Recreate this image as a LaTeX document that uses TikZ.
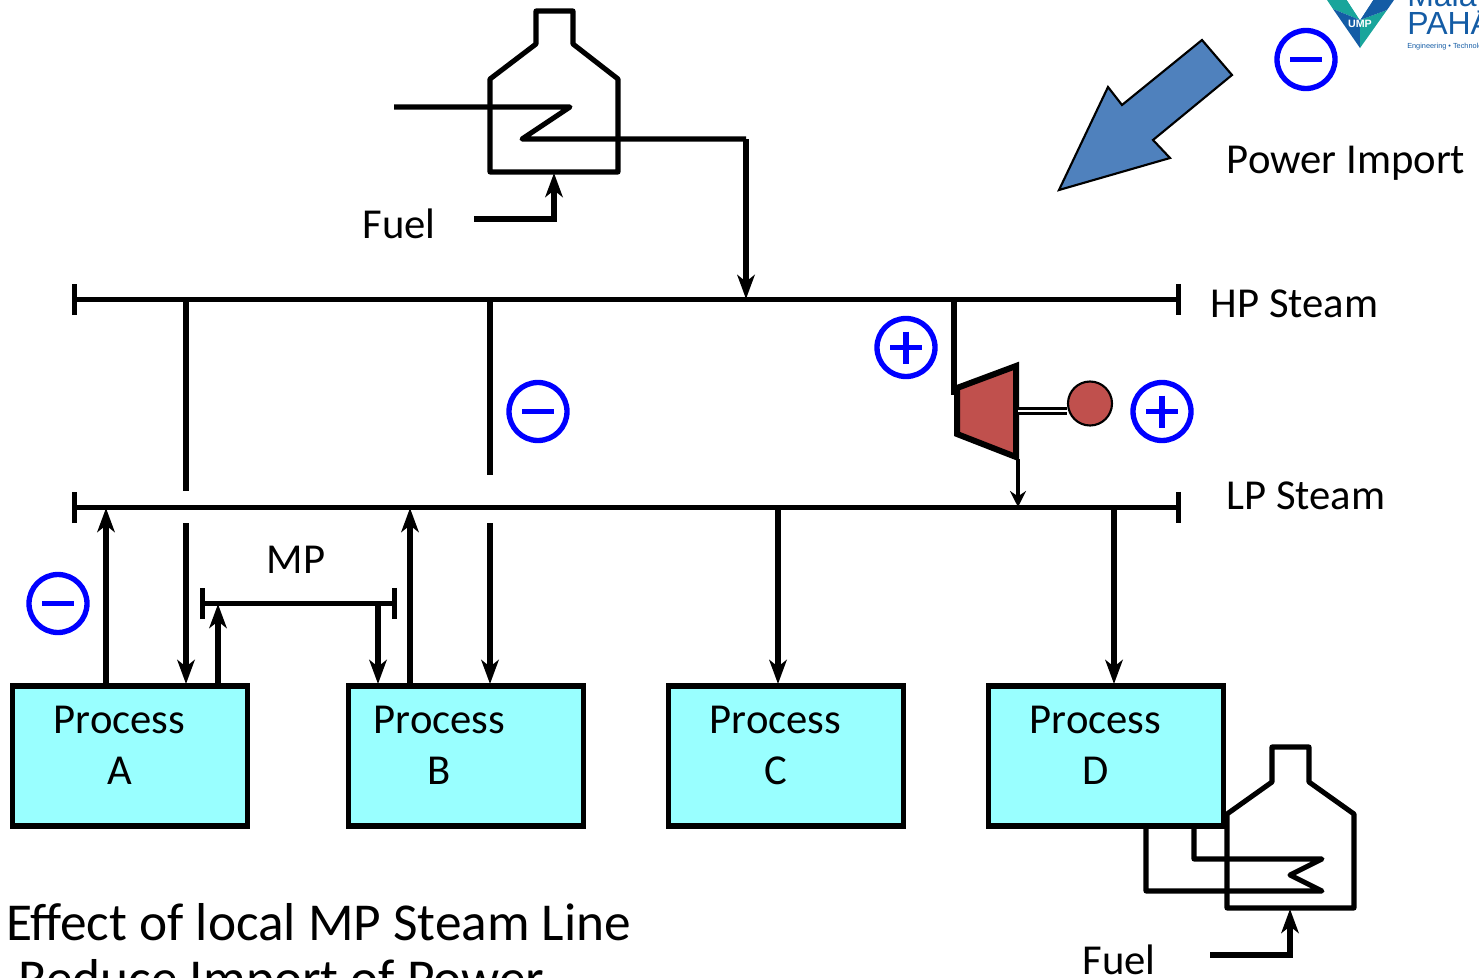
\documentclass[tikz,border=0pt]{standalone}
\usepackage{xcolor}
\usepackage{fontspec}
\setmainfont{Carlito}
\newfontfamily\logofont{Liberation Sans}
\usetikzlibrary{arrows.meta}
\definecolor{procfill}{RGB}{153,255,255}
\definecolor{turbfill}{RGB}{192,80,77}
\definecolor{powfill}{RGB}{79,129,189}
\definecolor{logoblue}{RGB}{20,92,165}
\definecolor{logoteal}{RGB}{25,165,155}
\tikzset{
  pipe/.style={line width=4pt},
  flow/.style={line width=4pt,-{Stealth[length=18pt,width=13pt,inset=5pt]}},
  hdr/.style={line width=4pt,{Bar[width=23.5pt,line width=4pt]}-{Bar[width=23.5pt,line width=4pt]}},
  furn/.style={line width=3.8pt,line join=round},
  procbox/.style={draw,line width=4pt,fill=procfill,minimum width=176.25pt,minimum height=105pt,inner sep=0pt,outer sep=0pt},
  lbl/.style={font=\fontsize{32}{38}\selectfont,align=center,inner sep=0pt},
  proclbl/.style={lbl,text depth=0pt},
  biglbl/.style={font=\fontsize{40}{46}\selectfont,anchor=west,inner sep=0pt},
  signring/.style={circle,draw=blue,line width=4pt,minimum size=43.5pt,inner sep=0pt},
  signbar/.style={draw=blue,line width=4pt},
}
\begin{document}
\begin{tikzpicture}[x=0.75pt,y=0.75pt,yscale=-1,xscale=1]
\useasboundingbox (0,0) rectangle (1479,978);
\clip (0,0) rectangle (1479,978);

%Shape: Furnace top
\draw[furn] (490,172) -- (618,172) -- (618,79) -- (573,44) -- (573,11) -- (536,11) -- (536,44) -- (490,79) -- cycle;
%Shape: Furnace bottom
\draw[furn] (1227,908) -- (1354,908) -- (1354,814) -- (1309,782) -- (1309,747) -- (1272,747) -- (1272,782) -- (1227,814) -- cycle;

%Shape: Process boxes
\node[procbox] (procA) at (130,756) {};
\node[procbox] (procB) at (466,756) {};
\node[procbox] (procC) at (786,756) {};
\node[procbox] (procD) at (1106,756) {};
\node[proclbl] (txtA) at (119.5,745) {Process\\A};
\node[proclbl] (txtB) at (439.5,745) {Process\\B};
\node[proclbl] (txtC) at (775.5,745) {Process\\C};
\node[proclbl] (txtD) at (1095.5,745) {Process\\D};

%Header ends
\coordinate (hpL) at (72,299.5);
\coordinate (hpR) at (1181,299.5);
\coordinate (lpL) at (72,507.5);
\coordinate (lpR) at (1181,507.5);
\coordinate (mpL) at (199.5,603.5);
\coordinate (mpR) at (397,603.5);

%Steam headers
\draw[hdr] (hpL) -- (hpR);
\draw[hdr] (lpL) -- (lpR);
\draw[hdr] (mpL) -- (mpR);

%Straight Lines: HP to process, broken at LP
\coordinate (hpA) at (186,299);
\coordinate (hpB) at (490,299);
\coordinate (brkA) at (186,491);
\coordinate (brkAb) at (186,523);
\coordinate (brkB) at (490,475);
\coordinate (brkBb) at (490,523);
\draw[pipe] (hpA) -- (brkA);
\draw[pipe] (hpB) -- (brkB);
\draw[flow,shorten >=1.5pt] (brkAb) -- (brkAb |- procA.north);
\draw[flow,shorten >=1.5pt] (brkBb) -- (brkBb |- procB.north);

%Straight Lines: process to LP
\coordinate (lpA) at (106,508);
\coordinate (lpB) at (410,508);
\draw[flow] (lpA |- procA.north) -- (lpA);
\draw[flow] (lpB |- procB.north) -- (lpB);

%Straight Lines: local MP line
\coordinate (mpA) at (218,604);
\coordinate (mpB) at (378,603);
\draw[flow] (mpA |- procA.north) -- (mpA);
\draw[flow,shorten >=1.5pt] (mpB) -- (mpB |- procB.north);

%Straight Lines: LP to C and D
\coordinate (lpC) at (778,507);
\coordinate (lpD) at (1114,507);
\draw[flow,shorten >=1.5pt] (lpC) -- (lpC |- procC.north);
\draw[flow,shorten >=1.5pt] (lpD) -- (lpD |- procD.north);

%Top furnace coil and fuel
\coordinate (coilIn) at (394,107);
\coordinate (coilOut) at (746,139);
\coordinate (hpIn) at (746,299);
\draw[furn] (coilIn) -- (570,107) -- (522,139) -- (coilOut);
\draw[flow,line join=miter] (coilOut) -- (hpIn);
\node[lbl] (fuelA) at (399,224) {Fuel};
\coordinate (fuelAin) at (474,219);
\coordinate (fuelAend) at (554,173);
\draw[flow,line join=miter] (fuelAin) -| (fuelAend);

%Bottom furnace coil and fuel
\coordinate (coilDa) at (1194,826);
\coordinate (coilDb) at (1146,826);
\draw[furn] (coilDa) -- (1194,859) -- (1322,859) -- (1290,875) -- (1322,891) -- (1146,891) -- (coilDb);
\node[lbl] (fuelD) at (1119,960) {Fuel};
\coordinate (fuelDin) at (1210,955);
\coordinate (fuelDend) at (1290,909);
\draw[flow,line join=miter] (fuelDin) -| (fuelDend);

%Shape: Turbine and generator
\coordinate (turbIn) at (954,299);
\coordinate (turbTop) at (954,395);
\draw[pipe] (turbIn) -- (turbTop);
\draw[line width=4.5pt,fill=turbfill,line join=miter] (957,388) -- (1016,366) -- (1016,457) -- (957,434) -- cycle;
\node[circle,draw,line width=1.6pt,fill=turbfill,minimum size=33pt,inner sep=0pt] (gen) at (1090,403.5) {};
\coordinate (shaft) at (1018,411);
\draw[line width=2.2pt,double=white,double distance=2pt] (shaft) -- (gen.west |- shaft);
\coordinate (turbOut) at (1018,459);
\coordinate (lpIn) at (1018,507);
\draw[line width=3.4pt,-{Stealth[length=12pt,width=12pt,inset=4pt]}] (turbOut) -- (lpIn);

%Power import arrow
\draw[line width=1.6pt,fill=powfill,line join=miter] (1059,190) -- (1108,87) -- (1122,105) -- (1202,40) -- (1232,75) -- (1153,140) -- (1170,158) -- cycle;

%Plus and minus rings
\node[signring] (minP) at (1306,59.5) {};
\draw[signbar] ([xshift=-12pt]minP.center) -- ([xshift=12pt]minP.center);
\node[signring] (minB) at (538,411.5) {};
\draw[signbar] ([xshift=-12pt]minB.center) -- ([xshift=12pt]minB.center);
\node[signring] (minA) at (58,603.5) {};
\draw[signbar] ([xshift=-12pt]minA.center) -- ([xshift=12pt]minA.center);
\node[signring] (plusT) at (906,347.5) {};
\draw[signbar] ([xshift=-12pt]plusT.center) -- ([xshift=12pt]plusT.center);
\draw[signbar] ([yshift=-12pt]plusT.center) -- ([yshift=12pt]plusT.center);
\node[signring] (plusG) at (1162,411.5) {};
\draw[signbar] ([xshift=-12pt]plusG.center) -- ([xshift=12pt]plusG.center);
\draw[signbar] ([yshift=-12pt]plusG.center) -- ([yshift=12pt]plusG.center);

% Text Node
\node[lbl] (pwrtxt) at (1346,163) {Power Import};
\node[lbl] (hptxt) at (1294.5,304) {HP Steam};
\node[lbl] (lptxt) at (1306,496) {LP Steam};
\node[lbl] (mptxt) at (296,560) {MP};
\node[biglbl] (efftxt) at (6,922) {Effect of local MP Steam Line};
\node[biglbl] (redtxt) at (18,982) {Reduce Import of Power};

%Logo
\fill[logoteal] (1327,0) -- (1347,0) -- (1360,20) -- (1333,9) -- cycle;
\fill[logoblue] (1333,9) -- (1360,20) -- (1360,48) -- cycle;
\fill[logoteal] (1360,20) -- (1387,10) -- (1360,48) -- cycle;
\fill[logoblue] (1373,0) -- (1394,0) -- (1387,10) -- (1360,20) -- cycle;
\fill[white] (1347,0) -- (1373,0) -- (1360,20) -- cycle;
\node[font=\logofont\bfseries\fontsize{8}{9}\selectfont,text=white,inner sep=0pt] (logoU) at (1360,24) {UMP};
\node[font=\logofont\fontsize{24}{26}\selectfont,text=logoblue,anchor=base west,inner sep=0pt] (logoM) at (1407,7) {Malaysia};
\node[font=\logofont\fontsize{24}{26}\selectfont,text=logoblue,anchor=base west,inner sep=0pt] (logoP) at (1407,35) {PAHANG};
\node[font=\logofont\fontsize{5.5}{6}\selectfont,text=logoblue,anchor=base west,inner sep=0pt] (logoE) at (1407,48) {Engineering • Technology};
\end{tikzpicture}
\end{document}
